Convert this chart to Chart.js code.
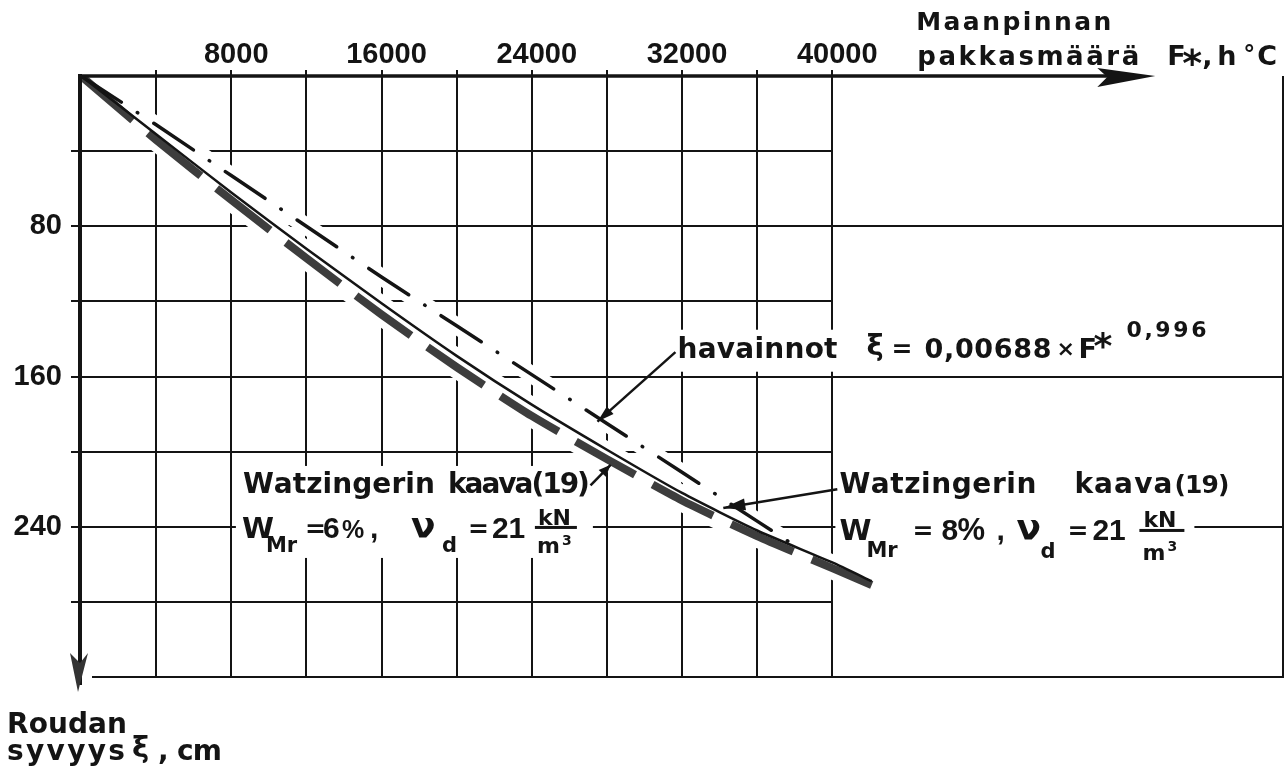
<!DOCTYPE html>
<html>
<head>
<meta charset="utf-8">
<script src="https://cdn.jsdelivr.net/npm/chart.js@4.4.1/dist/chart.umd.min.js"></script>
<style>
  html, body { margin: 0; padding: 0; background: #fff; }
  #frostChart { display: block; }
</style>
</head>
<body>
<canvas id="frostChart" width="1287" height="776"></canvas>
<script>
// Roudan syvyys pakkasmäärän funktiona
const obsF = [0, 4000, 8000, 12000, 16000, 20000, 24000, 28000, 32000, 36000, 38000];
const obsDepth = [0, 26, 53, 80, 107, 133, 159, 185, 211, 237, 250];

const watzF = [0, 4000, 8000, 12000, 16000, 20000, 24000, 28000, 32000, 36000, 40000, 42100];
const watz8Depth = [0, 31, 62, 92, 121, 149, 175, 199, 222, 242, 259, 269];
const watz6Depth = [0, 34, 66, 97, 127, 155, 181, 204, 226, 245, 262, 271];

const xTicks = [8000, 16000, 24000, 32000, 40000];
const yTicks = [80, 160, 240];
const gridF = [4000, 8000, 12000, 16000, 20000, 24000, 28000, 32000, 36000, 40000];
const gridDepth = [40, 80, 120, 160, 200, 240, 280];

const INK = '#141414';
const SANS = '"Liberation Sans", Arial, sans-serif';
const DEJA = '"DejaVu Sans", sans-serif';

// text pieces: [text, dx, dy, size, width, family]
const obsNote = [
  ['havainnot', 0, 0, 28, 160, DEJA],
  ['ξ', 189, -3, 29, 0, DEJA],
  ['=', 214, -1, 25, 0, DEJA],
  ['0,00688', 247, 0, 27, 127, DEJA],
  ['×', 379, -2, 22, 0, DEJA],
  ['F', 401, 0, 27, 0, DEJA],
  ['*', 416, 0, 36, 0, DEJA],
  ['0,996', 449, -21, 22, 80, DEJA]
];
const leftNote = [
  ['Watzingerin', 0, 0, 28, 192, DEJA],
  ['kaava(19)', 205, 0, 28, 142, DEJA],
  ['W', -1, 45, 29, 0, DEJA],
  ['Mr', 23, 59, 21, 0, DEJA],
  ['=', 62, 44, 25, 0, DEJA],
  ['6', 80, 45, 30],
  ['%', 99, 45, 25],
  [',', 127, 45, 30],
  ['ν', 168, 45, 36, 0, DEJA],
  ['d', 199, 59, 21, 0, DEJA],
  ['=', 225, 44, 25, 0, DEJA],
  ['21', 249, 45, 30],
  ['kN', 295, 32, 22, 0, DEJA],
  ['m', 294, 60, 22, 0, DEJA],
  ['3', 319, 52, 14, 0, DEJA]
];
const rightNote = [
  ['Watzingerin', 0, 0, 28, 197, DEJA],
  ['kaava', 235, 0, 28, 98, DEJA],
  ['(19)', 335, 0, 25, 55, DEJA],
  ['W', 0, 47, 29, 0, DEJA],
  ['Mr', 27, 64, 21, 0, DEJA],
  ['=', 73, 46, 25, 0, DEJA],
  ['8', 102, 47, 30],
  ['%', 118, 47, 31],
  [',', 157, 47, 30],
  ['ν', 177, 47, 36, 0, DEJA],
  ['d', 201, 65, 21, 0, DEJA],
  ['=', 228, 46, 25, 0, DEJA],
  ['21', 253, 47, 30],
  ['kN', 304, 34, 22, 0, DEJA],
  ['m', 303, 67, 22, 0, DEJA],
  ['3', 328, 58, 14, 0, DEJA]
];
const xTitle = [
  ['Maanpinnan', 84, -46, 25, 195, DEJA],
  ['pakkasmäärä', 85, -11, 26, 222, DEJA],
  ['F', 335, -11, 27, 0, DEJA],
  ['*', 350, 0, 38, 0, DEJA],
  [',', 370, -11, 27, 0, DEJA],
  ['h', 385, -11, 27, 0, DEJA],
  ['°', 411, -13, 24, 0, DEJA],
  ['C', 425, -11, 27, 0, DEJA]
];
const yTitle = [
  ['Roudan', -74, 56, 28, 120, DEJA],
  ['syvyys', -74, 83, 28, 118, DEJA],
  ['ξ', 51, 80, 29, 0, DEJA],
  [',', 77, 83, 28, 0, DEJA],
  ['cm', 96, 83, 28, 45, DEJA]
];

function put(ctx, s, x, y, size, width, family) {
  ctx.font = `bold ${size}px ${family || SANS}`;
  const chars = [...s];
  const w = chars.map(c => ctx.measureText(c).width);
  const natural = w.reduce((a, b) => a + b, 0);
  const gap = width && chars.length > 1 ? (width - natural) / (chars.length - 1) : 0;
  let cx = x;
  chars.forEach((c, i) => { ctx.fillText(c, cx, y); cx += w[i] + gap; });
}

function block(ctx, pieces, ax, ay) {
  pieces.forEach(([s, dx, dy, size, width, family]) => put(ctx, s, ax + dx, ay + dy, size, width, family));
}

function arrow(ctx, x1, y1, x2, y2, len, half) {
  ctx.beginPath();
  ctx.moveTo(x1, y1);
  ctx.lineTo(x2, y2);
  ctx.stroke();
  const a = Math.atan2(y2 - y1, x2 - x1);
  ctx.beginPath();
  ctx.moveTo(x2, y2);
  ctx.lineTo(x2 - len * Math.cos(a) + half * Math.sin(a), y2 - len * Math.sin(a) - half * Math.cos(a));
  ctx.lineTo(x2 - len * Math.cos(a) - half * Math.sin(a), y2 - len * Math.sin(a) + half * Math.cos(a));
  ctx.closePath();
  ctx.fill();
}

const sketch = {
  id: 'sketch',
  beforeDatasetsDraw(chart) {
    const { ctx, chartArea: a, scales: { x, y } } = chart;
    const X = v => x.getPixelForValue(v), Y = v => y.getPixelForValue(v);
    ctx.save();
    ctx.strokeStyle = INK;
    ctx.lineWidth = 2;
    ctx.beginPath();
    gridF.forEach(f => {
      const px = Math.round(X(f));
      ctx.moveTo(px, a.top - 6);
      ctx.lineTo(px, a.bottom);
    });
    const edge = Math.round(X(gridF[gridF.length - 1]));
    gridDepth.forEach(d => {
      const py = Math.round(Y(d));
      ctx.moveTo(a.left - 10, py);
      ctx.lineTo(d % 80 === 0 ? a.right : edge, py);
    });
    ctx.moveTo(a.left + 11, a.bottom);
    ctx.lineTo(a.right + 1, a.bottom);
    ctx.moveTo(a.right, a.top);
    ctx.lineTo(a.right, a.bottom);
    ctx.stroke();

    // clear the grid behind the notes
    ctx.fillStyle = '#fff';
    const o = [X(31760), Y(150)], l = [X(8620), Y(222)], r = [X(40380), Y(222)];
    ctx.fillRect(o[0] - 6, o[1] - 28, 540, 42);
    ctx.fillRect(l[0] - 7, l[1] - 27, 357, 92);
    ctx.fillRect(r[0] - 4, r[1] - 25, 359, 95);
    ctx.restore();
  },
  afterDatasetsDraw(chart) {
    const { ctx, chartArea: a, scales: { x, y } } = chart;
    const X = v => x.getPixelForValue(v), Y = v => y.getPixelForValue(v);
    ctx.save();
    ctx.fillStyle = INK;
    ctx.strokeStyle = INK;

    // F* axis along the top with its arrow
    const tip = X(57200);
    ctx.lineWidth = 3.5;
    ctx.beginPath();
    ctx.moveTo(a.left - 2, a.top);
    ctx.lineTo(tip - 30, a.top);
    ctx.stroke();
    ctx.beginPath();
    ctx.moveTo(tip, a.top);
    ctx.lineTo(tip - 58, a.top - 8);
    ctx.lineTo(tip - 48, a.top + 1);
    ctx.lineTo(tip - 58, a.top + 11);
    ctx.closePath();
    ctx.fill();

    // depth axis going down with its arrow
    const ax = a.left - 1;
    ctx.lineWidth = 4;
    ctx.beginPath();
    ctx.moveTo(ax, a.top - 2);
    ctx.lineTo(ax, a.bottom + 8);
    ctx.stroke();
    ctx.fillStyle = '#333';
    ctx.beginPath();
    ctx.moveTo(ax - 2, a.bottom + 15);
    ctx.lineTo(ax - 10, a.bottom - 24);
    ctx.lineTo(ax, a.bottom - 14);
    ctx.lineTo(ax + 8, a.bottom - 24);
    ctx.closePath();
    ctx.fill();
    ctx.fillStyle = INK;

    // leaders from the notes to the curves
    ctx.lineWidth = 2.5;
    arrow(ctx, X(31650), Y(147), X(27500), Y(184), 17, 5);
    arrow(ctx, X(27130), Y(218), X(28200), Y(207), 12, 5);
    arrow(ctx, X(40270), Y(220), X(34200), Y(230), 22, 6);
    ctx.fillRect(X(8620) + 292, Y(222) + 33, 42, 3);
    ctx.fillRect(X(40380) + 300, Y(222) + 36, 45, 3);

    ctx.textBaseline = 'alphabetic';
    ctx.textAlign = 'left';
    block(ctx, obsNote, X(31760), Y(150));
    block(ctx, leftNote, X(8620), Y(222));
    block(ctx, rightNote, X(40380), Y(222));
    block(ctx, xTitle, X(40000), a.top);
    block(ctx, yTitle, a.left, a.bottom);
    ctx.restore();
  }
};

const pts = (fs, ds) => fs.map((f, i) => ({ x: f, y: ds[i] }));
const halo = (data, w) => ({ data, borderColor: '#fff', borderWidth: w, pointRadius: 0, tension: 0.2, order: 10 });

new Chart(document.getElementById('frostChart'), {
  type: 'line',
  data: {
    datasets: [
      {
        label: 'Watzingerin kaava, W 8 %',
        data: pts(watzF, watz8Depth),
        borderColor: INK,
        borderWidth: 2.5,
        pointRadius: 0,
        tension: 0.2,
        order: 0
      },
      {
        label: 'havainnot',
        data: pts(obsF, obsDepth),
        borderColor: INK,
        borderWidth: 3.5,
        borderDash: [48, 19, 0.5, 19],
        borderCapStyle: 'round',
        pointRadius: 0,
        tension: 0.2,
        order: 1
      },
      {
        label: 'Watzingerin kaava, W 6 %',
        data: pts(watzF, watz6Depth),
        borderColor: 'rgba(45,45,45,0.92)',
        borderWidth: 8,
        borderDash: [68, 20],
        pointRadius: 0,
        tension: 0.2,
        order: 2
      },
      halo(pts(watzF, watz8Depth), 16),
      halo(pts(obsF, obsDepth), 17),
      halo(pts(watzF, watz6Depth), 22)
    ]
  },
  options: {
    responsive: false,
    animation: false,
    layout: { padding: { top: 0, left: 0, right: 3, bottom: 99 } },
    plugins: { legend: { display: false }, tooltip: { enabled: false } },
    scales: {
      x: {
        type: 'linear',
        position: 'top',
        min: 0,
        max: 64000,
        grid: { display: false, drawTicks: false },
        border: { display: false },
        afterFit: s => { s.height = 76; },
        ticks: {
          stepSize: 8000,
          autoSkip: false,
          maxRotation: 0,
          padding: 4,
          labelOffset: 5,
          color: INK,
          font: { family: 'Liberation Sans', size: 29, weight: 'bold' },
          callback: v => (xTicks.includes(v) ? String(v) : '')
        }
      },
      y: {
        type: 'linear',
        reverse: true,
        min: 0,
        max: 320,
        grid: { display: false, drawTicks: false },
        border: { display: false },
        afterFit: s => { s.width = 81; },
        ticks: {
          stepSize: 80,
          autoSkip: false,
          padding: 19,
          color: INK,
          font: { family: 'Liberation Sans', size: 29, weight: 'bold' },
          callback: v => (yTicks.includes(v) ? String(v) : '')
        }
      }
    }
  },
  plugins: [sketch]
});
</script>
</body>
</html>
